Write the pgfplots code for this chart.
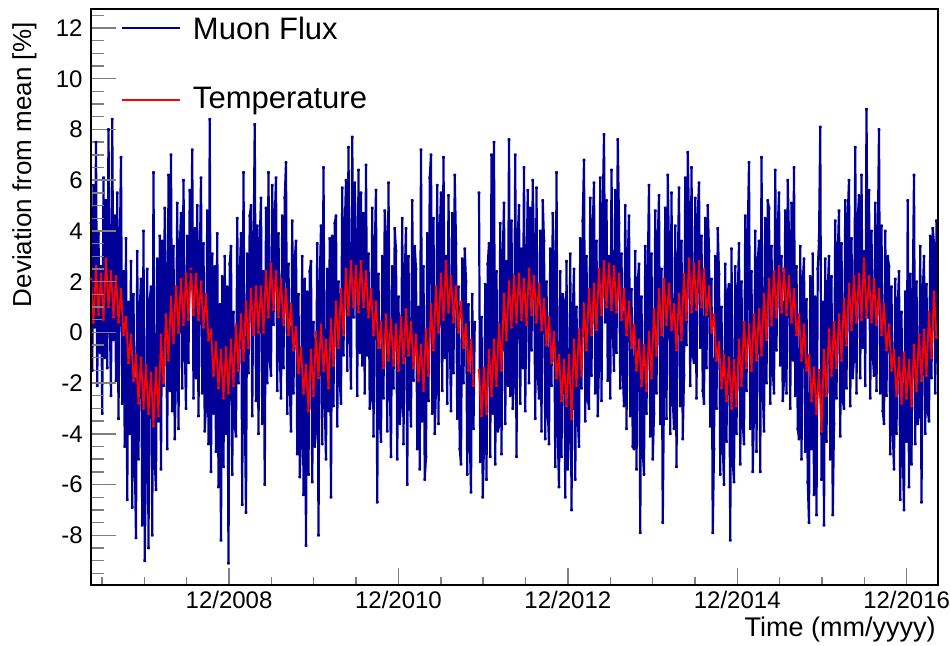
\documentclass[border=0pt]{standalone}
\usepackage{pgfplots}
\pgfplotsset{compat=1.18}
\usepackage{pgfplotstable}
\usepackage{fontspec}
\setmainfont{Liberation Sans}
\definecolor{rootblue}{RGB}{0,0,153}
\definecolor{rootred}{RGB}{255,0,0}

% muon flux, before the data gap (late 2011)
\pgfplotstableread[row sep=\\, header=false]{
4.3\\ -1.5\\ 5.8\\ 0.2\\
7.5\\ -2.1\\ 3.9\\ -0.8\\
2.6\\ -3.2\\ 6.1\\ -1.0\\
5.2\\ -1.4\\ 8.0\\ 0.9\\
-2.5\\ 8.4\\ -0.3\\ 4.6\\
-1.9\\ 5.5\\ -3.4\\ 3.1\\
6.9\\ -2.8\\ 2.4\\ -4.5\\
3.7\\ -6.6\\ 1.2\\ -4.0\\
2.8\\ -6.9\\ 1.5\\ -4.8\\
-8.1\\ 3.2\\ -5.0\\ 0.9\\
2.1\\ -7.6\\ 4.0\\ -9.0\\
-4.8\\ 2.5\\ -8.5\\ 1.3\\
1.8\\ -8.0\\ 6.3\\ -5.1\\
-6.2\\ 2.9\\ -3.5\\ 3.8\\
-5.4\\ 3.6\\ -2.1\\ 4.9\\
1.7\\ -4.6\\ 6.2\\ -2.3\\
7.0\\ -3.1\\ 3.4\\ -4.2\\
-1.6\\ 5.1\\ -3.8\\ 3.3\\
4.7\\ -2.2\\ 6.0\\ -0.4\\
-3.0\\ 3.8\\ -1.2\\ 5.6\\
2.4\\ 7.2\\ -2.6\\ 4.1\\
-1.8\\ 5.0\\ -3.3\\ 2.7\\
6.1\\ -2.4\\ 3.5\\ -3.9\\
-2.9\\ 4.8\\ -4.4\\ 8.4\\
-5.5\\ 3.1\\ -3.2\\ 2.6\\
-4.7\\ 3.9\\ -6.1\\ 1.1\\
-8.2\\ 2.2\\ -5.3\\ 3.0\\
-4.0\\ 1.8\\ -9.1\\ 2.7\\
3.4\\ -5.6\\ 0.8\\ -3.7\\
-4.1\\ 4.5\\ -2.0\\ 2.2\\
3.9\\ -6.8\\ 6.3\\ -2.8\\
-7.1\\ 3.1\\ -1.6\\ 4.6\\
5.0\\ -3.3\\ 2.9\\ 8.2\\
-2.7\\ 4.2\\ -4.0\\ 3.6\\
5.3\\ -3.6\\ 2.4\\ -6.0\\
4.9\\ -2.0\\ 6.3\\ -1.1\\
-1.7\\ 5.8\\ 0.3\\ 4.4\\
6.1\\ -2.3\\ 3.9\\ -0.6\\
-2.6\\ 4.6\\ -1.4\\ 5.3\\
6.7\\ -3.2\\ 2.7\\ -2.0\\
-3.9\\ 4.4\\ -2.4\\ 2.9\\
3.6\\ -4.8\\ 1.5\\ -5.7\\
-4.2\\ 3.0\\ -6.4\\ 2.1\\
-8.4\\ 1.6\\ -5.6\\ 2.4\\
2.8\\ -5.9\\ 0.4\\ -4.5\\
-3.6\\ 3.5\\ -8.0\\ 1.9\\
4.2\\ -4.4\\ 6.5\\ -2.7\\
-5.0\\ 2.5\\ -3.1\\ 3.7\\
-6.5\\ 3.8\\ -2.9\\ 4.3\\
4.6\\ -3.7\\ 2.0\\ -1.9\\
-2.8\\ 5.7\\ -0.9\\ 4.0\\
6.0\\ -1.5\\ 7.3\\ 0.2\\
-2.2\\ 7.7\\ 0.6\\ 5.9\\
3.4\\ -2.5\\ 6.4\\ -0.8\\
5.5\\ -1.3\\ 4.7\\ -2.4\\
6.6\\ -0.9\\ 3.1\\ -3.0\\
-2.6\\ 4.9\\ -4.1\\ 3.2\\
5.6\\ -6.7\\ 2.3\\ -3.4\\
-4.3\\ 3.0\\ -2.6\\ 4.8\\
3.7\\ -3.9\\ 5.9\\ -1.8\\
-4.9\\ 2.6\\ -2.2\\ 4.1\\
3.2\\ -5.0\\ 1.4\\ -3.6\\
-2.8\\ 4.5\\ -4.4\\ 2.2\\
4.1\\ -6.0\\ 3.0\\ -2.5\\
-3.7\\ 5.2\\ -1.9\\ 3.4\\
2.5\\ -4.6\\ 1.0\\ -5.4\\
7.2\\ -3.5\\ 2.6\\ -5.8\\
-4.9\\ 3.9\\ -2.7\\ 6.1\\
7.0\\ -3.2\\ 4.5\\ -4.0\\
-2.1\\ 5.8\\ -3.6\\ 3.9\\
5.5\\ -2.3\\ 6.9\\ -1.0\\
3.0\\ -2.8\\ 5.4\\ 0.1\\
-3.1\\ 4.7\\ -1.6\\ 6.2\\
3.5\\ -3.4\\ 1.8\\ -4.6\\
-5.2\\ 2.9\\ -2.0\\ 3.3\\
2.0\\ -5.6\\ 1.1\\ -4.1\\
-6.3\\ 1.5\\ -3.8\\ 0.4\\
}\muonA

% muon flux, after the gap
\pgfplotstableread[row sep=\\, header=false]{
5.5\\ -5.1\\ 0.6\\ -6.5\\
-4.4\\ 1.9\\ -5.8\\ 2.7\\
3.5\\ -4.9\\ 7.0\\ -3.2\\
7.5\\ -5.2\\ 2.4\\ -3.9\\
-3.7\\ 4.3\\ -4.8\\ 3.0\\
5.1\\ -3.6\\ 2.8\\ -2.1\\
7.6\\ -2.5\\ 4.4\\ -3.0\\
-1.9\\ 7.0\\ -4.9\\ 3.8\\
5.0\\ -2.8\\ 3.3\\ -1.4\\
6.5\\ -3.1\\ 2.2\\ 5.6\\
-2.0\\ 4.9\\ -0.7\\ 6.0\\
3.1\\ -3.4\\ 5.7\\ -1.6\\
-2.6\\ 4.0\\ -3.9\\ 5.2\\
3.6\\ -4.2\\ 2.0\\ -3.0\\
-4.4\\ 3.3\\ -2.1\\ 4.7\\
2.6\\ -5.3\\ 6.3\\ -4.0\\
-6.1\\ 2.4\\ -4.9\\ 1.5\\
1.2\\ -6.5\\ 2.8\\ -5.4\\
-4.0\\ 3.1\\ -7.0\\ 0.7\\
2.5\\ -5.8\\ 1.0\\ -3.4\\
-4.5\\ 3.7\\ -2.2\\ 4.4\\
6.8\\ -3.5\\ 3.0\\ -2.6\\
-3.0\\ 5.3\\ -1.7\\ 4.2\\
5.9\\ -2.4\\ 3.6\\ -3.3\\
-1.2\\ 6.1\\ -2.7\\ 4.8\\
7.8\\ 0.4\\ 5.2\\ -1.9\\
3.0\\ -2.6\\ 6.4\\ 0.2\\
-1.5\\ 5.6\\ -0.8\\ 7.6\\
4.3\\ -2.2\\ 3.1\\ -1.6\\
-2.9\\ 5.0\\ -3.8\\ 2.9\\
4.6\\ -3.3\\ 1.7\\ -4.5\\
-4.6\\ 3.2\\ -5.4\\ 2.0\\
2.7\\ -7.9\\ 1.4\\ -4.7\\
-5.6\\ 3.4\\ -3.2\\ 2.3\\
5.8\\ -4.1\\ 3.1\\ -5.0\\
-3.2\\ 4.8\\ -2.4\\ 3.6\\
5.4\\ -3.6\\ 2.5\\ -7.5\\
-2.1\\ 4.9\\ -3.4\\ 6.2\\
3.1\\ -4.0\\ 5.5\\ -2.6\\
-3.8\\ 4.2\\ -5.3\\ 2.4\\
5.7\\ -2.9\\ 3.6\\ -4.2\\
-1.7\\ 6.1\\ -0.5\\ 7.1\\
4.4\\ -2.1\\ 6.5\\ -0.9\\
-1.2\\ 5.3\\ -2.6\\ 4.6\\
5.9\\ -0.6\\ 3.8\\ -2.3\\
-2.8\\ 4.5\\ -1.4\\ 5.0\\
3.2\\ -3.7\\ 2.1\\ -7.9\\
-4.6\\ 3.0\\ -3.0\\ 4.1\\
2.3\\ -5.6\\ 1.0\\ -4.4\\
-6.0\\ 2.7\\ -4.3\\ 1.6\\
1.9\\ -8.2\\ 3.3\\ -5.1\\
-5.9\\ 2.6\\ -4.0\\ 1.4\\
3.5\\ -5.2\\ 2.0\\ -3.6\\
-4.4\\ 4.6\\ -2.3\\ 3.9\\
6.7\\ -3.8\\ 2.4\\ -5.5\\
-3.1\\ 4.0\\ -4.7\\ 2.8\\
3.6\\ -5.5\\ 6.9\\ -2.3\\
-3.9\\ 4.5\\ -2.0\\ 5.2\\
4.9\\ -2.8\\ 3.4\\ -1.5\\
-2.4\\ 6.4\\ -0.7\\ 4.1\\
5.5\\ -1.3\\ 3.0\\ -2.7\\
-1.9\\ 4.8\\ -2.4\\ 6.0\\
3.7\\ -3.0\\ 5.1\\ -1.1\\
6.5\\ -2.5\\ 2.6\\ -3.8\\
-4.2\\ 3.4\\ -5.0\\ 2.0\\
2.9\\ -4.7\\ 1.3\\ -5.9\\
-7.5\\ 2.2\\ -4.6\\ 3.1\\
-6.4\\ 1.4\\ -7.2\\ 2.5\\
3.6\\ 8.1\\ -5.8\\ 1.2\\
-7.6\\ 2.9\\ -4.3\\ 1.7\\
3.0\\ -5.0\\ 2.2\\ -7.2\\
-3.6\\ 4.4\\ -2.6\\ 3.1\\
4.8\\ -4.1\\ 3.5\\ -2.7\\
-3.0\\ 5.2\\ -2.2\\ 4.6\\
6.0\\ -2.9\\ 3.7\\ -1.8\\
-1.0\\ 7.3\\ -2.4\\ 4.5\\
5.4\\ -1.8\\ 6.2\\ -0.6\\
3.2\\ -2.1\\ 8.8\\ 0.6\\
5.6\\ -2.6\\ 4.0\\ -0.9\\
-1.7\\ 5.1\\ -2.3\\ 3.5\\
8.0\\ -2.4\\ 4.2\\ -3.1\\
-3.6\\ 4.0\\ -2.5\\ 3.0\\
2.6\\ -4.8\\ 1.8\\ -3.9\\
-5.4\\ 2.1\\ -4.0\\ 1.0\\
2.4\\ -6.6\\ 0.8\\ -4.7\\
-7.0\\ 1.6\\ -4.3\\ 5.2\\
-6.1\\ 2.3\\ -5.2\\ 1.4\\
6.2\\ -4.4\\ 2.0\\ -3.6\\
-3.2\\ 3.4\\ -6.7\\ 1.5\\
3.0\\ -4.0\\ 1.9\\ -3.1\\
-3.5\\ 3.8\\ -1.8\\ 4.1\\
3.5\\ -2.4\\ 4.4\\ -1.2\\
}\muonB

% temperature, before the gap
\pgfplotstableread[row sep=\\, header=false]{
2.1\\ 0.4\\ 2.6\\ 0.7\\ 2.3\\ 0.5\\ 2.9\\ 1.0\\ 2.4\\ 0.6\\
2.2\\ 0.4\\ 1.7\\ -0.1\\ 0.6\\ -1.2\\ -0.1\\ -1.9\\ -0.9\\ -2.8\\
-1.0\\ -3.0\\ -1.3\\ -3.2\\ -1.6\\ -3.7\\ -1.4\\ -3.3\\ -0.1\\ -2.0\\
0.7\\ -1.1\\ 1.4\\ -0.4\\ 1.8\\ 0.0\\ 2.1\\ 0.3\\ 2.3\\ 0.5\\
2.5\\ 0.7\\ 2.3\\ 0.5\\ 2.0\\ 0.2\\ 1.5\\ -0.3\\ 0.1\\ -1.7\\
-0.4\\ -2.2\\ -0.7\\ -2.6\\ -0.6\\ -2.4\\ -0.3\\ -2.1\\ 0.3\\ -1.5\\
0.7\\ -1.1\\ 1.2\\ -0.6\\ 1.7\\ -0.1\\ 1.8\\ 0.0\\ 1.8\\ 0.0\\
2.4\\ 0.6\\ 2.7\\ 0.9\\ 2.4\\ 0.6\\ 2.1\\ 0.3\\ 1.7\\ -0.1\\
1.1\\ -0.7\\ 0.2\\ -1.6\\ -0.6\\ -2.4\\ -1.3\\ -3.1\\ -0.7\\ -2.5\\
0.0\\ -1.8\\ 0.3\\ -1.5\\ -0.3\\ -2.2\\ 0.5\\ -1.3\\ 1.2\\ -0.6\\
1.7\\ -0.1\\ 2.5\\ 0.7\\ 2.8\\ 1.0\\ 2.6\\ 0.8\\ 2.8\\ 1.0\\
2.4\\ 0.6\\ 1.7\\ -0.1\\ 1.2\\ -0.6\\ 0.4\\ -1.4\\ 0.7\\ -1.1\\
0.5\\ -1.3\\ 0.3\\ -1.5\\ 0.6\\ -1.2\\ 0.9\\ -0.9\\ 0.4\\ -1.4\\
-0.1\\ -1.9\\ -0.5\\ -2.3\\ 0.1\\ -1.7\\ 1.1\\ -0.7\\ 1.8\\ 0.0\\
2.3\\ 0.5\\ 2.8\\ 0.8\\ 2.2\\ 0.4\\ 1.8\\ 0.0\\ 1.2\\ -0.6\\
0.3\\ -1.5\\ -0.3\\ -2.1\\
}\tempA

% temperature, after the gap
\pgfplotstableread[row sep=\\, header=false]{
-1.5\\ -3.3\\ -1.4\\ -3.2\\ -0.7\\ -2.5\\ -0.3\\ -2.1\\ 0.3\\ -1.5\\
1.5\\ -0.3\\ 2.0\\ 0.2\\ 2.2\\ 0.4\\ 2.3\\ 0.5\\ 2.1\\ 0.3\\
2.5\\ 0.7\\ 2.2\\ 0.4\\ 1.9\\ 0.1\\ 1.3\\ -0.5\\ 0.6\\ -1.2\\
0.0\\ -1.8\\ -0.9\\ -2.7\\ -1.1\\ -2.9\\ -0.9\\ -3.4\\ -0.3\\ -2.1\\
0.1\\ -1.7\\ 1.1\\ -0.7\\ 1.7\\ -0.1\\ 1.9\\ 0.1\\ 2.5\\ 0.7\\
2.8\\ 1.0\\ 2.7\\ 0.9\\ 2.6\\ 0.8\\ 2.3\\ 0.5\\ 1.7\\ -0.1\\
1.2\\ -0.6\\ 0.3\\ -1.5\\ -0.3\\ -2.1\\ -0.5\\ -2.3\\ 0.0\\ -1.8\\
0.9\\ -0.9\\ 1.7\\ -0.1\\ 2.1\\ 0.3\\ 1.9\\ 0.1\\ 1.1\\ -0.7\\
1.5\\ -0.3\\ 2.3\\ 0.5\\ 2.9\\ 0.8\\ 2.7\\ 0.9\\ 2.8\\ 1.0\\
2.5\\ 0.7\\ 1.8\\ 0.0\\ 0.7\\ -1.1\\ -0.4\\ -2.2\\ -0.9\\ -2.7\\
-1.0\\ -3.0\\ -1.1\\ -2.9\\ -0.3\\ -2.1\\ 0.4\\ -1.4\\ 0.3\\ -1.5\\
0.7\\ -1.1\\ 0.9\\ -0.9\\ 1.5\\ -0.3\\ 2.1\\ 0.3\\ 2.4\\ 0.6\\
2.6\\ 0.8\\ 2.5\\ 0.7\\ 2.2\\ 0.4\\ 1.7\\ -0.1\\ 0.7\\ -1.1\\
0.3\\ -1.5\\ -0.9\\ -2.7\\ -1.4\\ -3.2\\ -1.5\\ -3.9\\ -0.7\\ -2.5\\
0.1\\ -1.7\\ 0.4\\ -1.4\\ 0.7\\ -1.1\\ 1.3\\ -0.5\\ 1.9\\ 0.1\\
2.2\\ 0.4\\ 2.3\\ 0.5\\ 2.9\\ 0.6\\ 2.2\\ 0.4\\ 2.1\\ 0.3\\
1.7\\ -0.1\\ 1.1\\ -0.7\\ 0.3\\ -1.5\\ -0.7\\ -2.5\\ -1.0\\ -2.8\\
-0.8\\ -2.6\\ -1.1\\ -2.9\\ -0.5\\ -2.3\\ -0.1\\ -1.9\\ 0.1\\ -1.7\\
0.8\\ -1.0\\ 1.6\\ -0.2\\
}\tempB

\begin{document}
\begin{tikzpicture}
\useasboundingbox (-45.5pt,-30.5pt) rectangle (429.5pt,292.5pt);
\begin{axis}[
    scale only axis,
    width=423.5pt, height=288pt,
    xmin=2007.29, xmax=2017.29,
    ymin=-9.96, ymax=12.75,
    axis on top,
    axis line style={line width=0.8pt},
    tick align=inside,
    xtick pos=bottom, ytick pos=left,
    xtick={2008.92,2010.92,2012.92,2014.92,2016.92},
    xticklabels={12/2008,12/2010,12/2012,12/2014,12/2016},
    minor xtick={2007.42,2007.92,2008.42,2009.42,2009.92,2010.42,2011.42,2011.92,2012.42,2013.42,2013.92,2014.42,2015.42,2015.92,2016.42},
    ytick={-8,-6,...,12},
    minor ytick={-9.5,-9,...,12.5},
    xtick style={line width=0.7pt, /pgfplots/major tick length=8.5pt, /pgfplots/minor tick length=4pt},
    ytick style={line width=0.7pt, /pgfplots/major tick length=12.5pt, /pgfplots/minor tick length=6.5pt},
    minor tick style={line width=0.7pt},
    /pgf/number format/assume math mode=true,
    ticklabel style={font=\fontsize{12}{14}\selectfont, inner sep=0pt},
    yticklabel style={xshift=-4pt},
    xticklabel style={yshift=-3pt},
]
\addplot[rootblue, line width=1.1pt, line join=bevel, mark=*, mark size=0.3pt, mark options={draw=none, fill=black}]
    table[x expr=\coordindex*0.014758+2007.29, y index=0] {\muonA};
\addplot[rootblue, line width=1.1pt, line join=bevel, mark=*, mark size=0.3pt, mark options={draw=none, fill=black}]
    table[x expr=\coordindex*0.014758+2011.871, y index=0] {\muonB};
\addplot[rootred, line width=0.9pt, line join=bevel, mark=*, mark size=0.35pt, mark options={draw=none, fill=black}]
    table[x expr=\coordindex*0.029516+2007.29, y index=0] {\tempA};
\addplot[rootred, line width=0.9pt, line join=bevel, mark=*, mark size=0.35pt, mark options={draw=none, fill=black}]
    table[x expr=\coordindex*0.029516+2011.871, y index=0] {\tempB};
\end{axis}
% legend
\draw[rootblue, line width=0.6pt] (15.5pt,278.5pt) -- (44.5pt,278.5pt);
\draw[rootred, line width=0.6pt] (15.5pt,242.5pt) -- (44.5pt,242.5pt);
\node[anchor=base west, inner sep=0pt, font=\fontsize{15.5}{18}\selectfont] at (50.8pt,272.5pt) {Muon Flux};
\node[anchor=base west, inner sep=0pt, font=\fontsize{15.5}{18}\selectfont] at (50.8pt,238pt) {Temperature};
% axis titles
\node[anchor=base east, inner sep=0pt, font=\fontsize{13.5}{16}\selectfont] at (422.5pt,-26pt) {Time (mm/yyyy)};
\node[rotate=90, anchor=north east, inner sep=0pt, font=\fontsize{13}{16}\selectfont] at (-39.5pt,281.5pt) {Deviation from mean [\%]};
\end{tikzpicture}
\end{document}
